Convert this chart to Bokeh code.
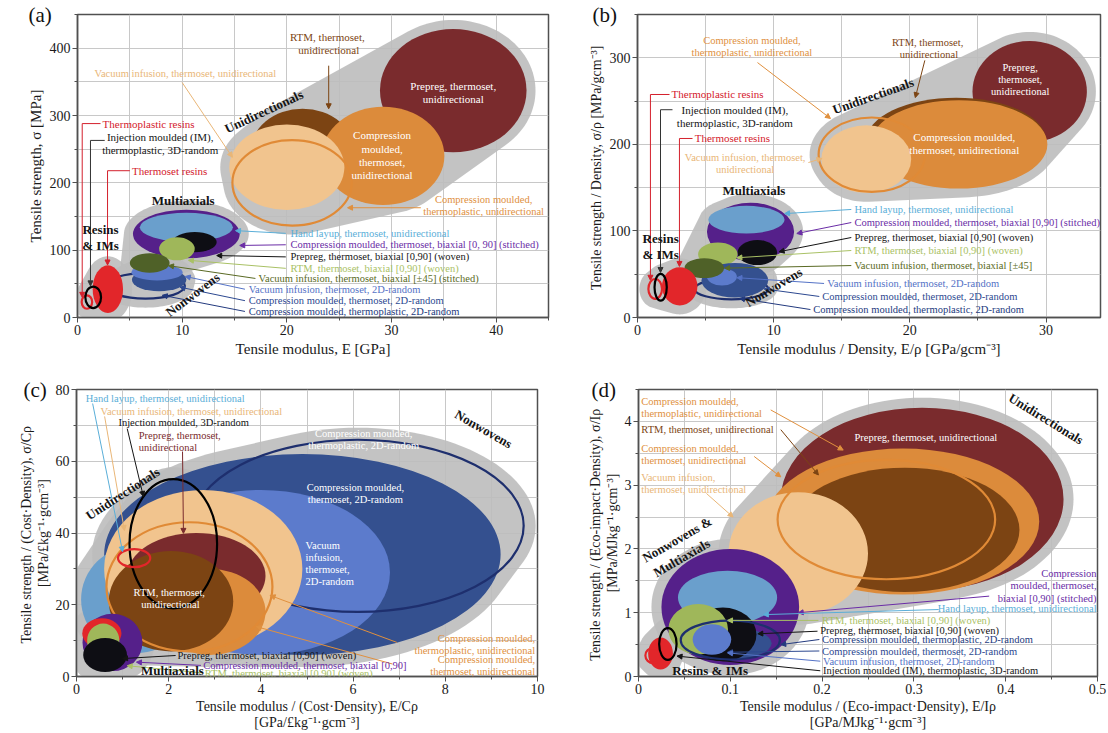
import numpy as np
from bokeh.plotting import figure
from bokeh.layouts import column, row
from bokeh.models import (Range1d, Label, Arrow, NormalHead, SingleIntervalTicker,
                          NumeralTickFormatter)
from bokeh.embed import file_html
from bokeh.resources import INLINE

FONT = "Liberation Serif"

MATERIALS = [
    "Thermoplastic resins",
    "Thermoset resins",
    "Injection moulded (IM), thermoplastic, 3D-random",
    "Compression moulded, thermoplastic, 2D-random",
    "Compression moulded, thermoset, 2D-random",
    "Vacuum infusion, thermoset, 2D-random",
    "Compression moulded, thermoset, biaxial [0,90] (stitched)",
    "Hand layup, thermoset, unidirectional",
    "Prepreg, thermoset, biaxial [0,90] (woven)",
    "RTM, thermoset, biaxial [0,90] (woven)",
    "Vacuum infusion, thermoset, biaxial [±45] (stitched)",
    "Prepreg, thermoset, unidirectional",
    "RTM, thermoset, unidirectional",
    "Compression moulded, thermoset, unidirectional",
    "Vacuum infusion, thermoset, unidirectional",
    "Compression moulded, thermoplastic, unidirectional",
]
FILLS = [None, "#e2262a", None, None, "#34508f", "#5c7bcc", "#55208a", "#6a9fcc",
         "#0e0e14", "#9fb75a", "#4f6128", "#7a2b2d", "#7c4413", "#dc8b3b", "#f1c48e", None]
EDGES = ["#e2262a", None, "#000000", "#1e2f6e", None, None, None, None,
         None, None, None, None, None, None, None, "#e08a36"]

# (a) Tensile modulus E [GPa] / tensile strength [MPa]
A_X = [0.9, 2.9, 1.5, 6.5, 7.8, 7.6, 10.4, 10.4, 11.2, 9.5, 6.9, 35.9, 21.5, 29.2, 20.0, 20.5]
A_Y = [23, 42, 30, 47, 56, 67, 124, 134, 112, 102, 81, 337, 245, 240, 223, 200]
A_W = [1.0, 2.9, 1.5, 7.5, 5.2, 4.9, 10.2, 8.9, 4.2, 3.4, 3.8, 14.0, 10.0, 11.7, 11.0, 11.4]
A_H = [20, 71, 32, 38, 34, 24, 72, 43, 30, 34, 29, 183, 130, 146, 127, 127]
# (b) specific values (per density)
B_X = [1.3, 3.1, 1.7, 6.9, 7.15, 6.2, 8.3, 8.0, 8.8, 5.9, 4.9, 28.8, 23.4, 23.6, 16.8, 17.2]
B_Y = [33, 36, 35, 33, 43, 47, 99, 113, 75, 73, 57, 261, 204, 200, 183, 188]
B_W = [1.0, 2.6, 0.9, 5.4, 4.9, 2.2, 6.4, 5.6, 2.9, 2.9, 2.9, 8.4, 13.2, 13.0, 6.6, 7.8]
B_H = [23, 44, 31, 24, 40, 20, 67, 32, 29, 27, 23, 117, 100, 102, 78, 86]
# (c) per cost-density
C_X = [1.25, 0.55, 2.1, 6.1, 4.9, 4.0, 0.78, 1.3, 0.62, 0.58, 0.7, 2.6, 2.05, 2.9, 2.75, 2.45]
C_Y = [33, 12, 37, 42, 34, 29, 9.5, 21.5, 6.0, 10, 8, 28, 21, 18, 30, 25]
C_W = [0.7, 0.85, 1.9, 7.2, 8.6, 5.6, 1.3, 2.4, 0.95, 0.7, 0.6, 3.0, 2.7, 2.4, 4.3, 3.6]
C_H = [5, 8.5, 36, 48, 56, 46, 16, 30, 9.5, 9.5, 6, 24, 28, 24, 44, 36]
# (d) per eco-impact-density
D_X = [0.016, 0.024, 0.032, 0.1, 0.1, 0.08, 0.1, 0.097, 0.092, 0.065, 0.08, 0.309, 0.29, 0.288, 0.174, 0.27]
D_Y = [0.33, 0.36, 0.51, 0.57, 0.52, 0.58, 1.09, 1.24, 0.66, 0.74, 0.9, 2.78, 2.3, 2.43, 1.93, 2.46]
D_W = [0.017, 0.027, 0.019, 0.108, 0.09, 0.042, 0.15, 0.108, 0.073, 0.065, 0.04, 0.308, 0.25, 0.297, 0.152, 0.237]
D_H = [0.24, 0.5, 0.5, 0.61, 0.5, 0.48, 1.82, 0.84, 0.84, 0.79, 0.3, 2.87, 1.95, 2.29, 1.92, 1.87]

GROUPS_ABD = ["R", "R", "R", "N", "N", "N", "M", "M", "M", "M", "M", "U", "U", "U", "U", "U"]
GROUPS_C = ["U", "M", "U", "N", "N", "N", "M", "U", "M", "M", "M", "U", "U", "U", "U", "U"]
GROUPS_D = ["R", "R", "R", "M", "M", "M", "M", "M", "M", "M", "M", "U", "U", "U", "U", "U"]

ORDER_AB = [11, 12, 13, 14, 15, 6, 7, 8, 9, 3, 4, 5, 10, 1, 0, 2]
ORDER_C = [4, 5, 3, 7, 14, 11, 13, 12, 15, 2, 0, 10, 6, 1, 9, 8]
ORDER_D = [11, 13, 12, 14, 15, 10, 6, 7, 4, 8, 9, 5, 3, 1, 0, 2]

T_RED = "#d4202c"; T_BLACK = "#141414"; T_TAN = "#e9b677"; T_ORANGE = "#e0903e"
T_BROWN = "#7c4413"; T_DARKRED = "#7a2b2d"; T_HAND = "#5aaed8"; T_PURPLE = "#6a2ca6"
T_GREEN = "#a9c165"; T_OLIVE = "#5a6a24"; T_VI2D = "#5472c6"; T_CMTS2D = "#2c4890"
T_CMTP2D = "#233a7e"; WHITE = "#ffffff"

# (x, y, text, color, size, align, style, angle)
TEXT_A = [
    (2.4, 288, "Thermoplastic resins", T_RED, 11, "left", "normal", 0),
    (7.9, 258, "Injection moulded (IM),\nthermoplastic, 3D-random", T_BLACK, 11, "center", "normal", 0),
    (5.2, 218, "Thermoset resins", T_RED, 11, "left", "normal", 0),
    (2.2, 119, "Resins\n& IMs", T_BLACK, 13, "center", "bold", 0),
    (10.1, 174, "Multiaxials", T_BLACK, 13, "center", "bold", 0),
    (11.0, 34, "Nonwovens", T_BLACK, 13, "center", "bold", 37),
    (17.8, 306, "Unidirectionals", T_BLACK, 13, "center", "bold", 25),
    (10.3, 362, "Vacuum infusion, thermoset, unidirectional", T_TAN, 10.5, "center", "normal", 0),
    (24.0, 407, "RTM,  thermoset,\nunidirectional", T_BROWN, 11, "center", "normal", 0),
    (35.9, 334, "Prepreg, thermoset,\nunidirectional", WHITE, 11, "center", "normal", 0),
    (29.1, 241, "Compression\nmoulded,\nthermoset,\nunidirectional", WHITE, 11, "center", "normal", 0),
    (38.8, 166, "Compression moulded,\nthermoplastic, unidirectional", T_ORANGE, 10.5, "center", "normal", 0),
    (20.35, 125, "Hand layup, thermoset, unidirectional", T_HAND, 10.5, "left", "normal", 0),
    (20.35, 108, "Compression moulded, thermoset, biaxial [0, 90] (stitched)", T_PURPLE, 10.5, "left", "normal", 0),
    (20.35, 90, "Prepreg, thermoset, biaxial [0,90] (woven)", T_BLACK, 10.5, "left", "normal", 0),
    (20.35, 73, "RTM, thermoset, biaxial [0,90] (woven)", T_GREEN, 10.5, "left", "normal", 0),
    (17.3, 58, "Vacuum infusion, thermoset, biaxial [±45] (stitched)", T_OLIVE, 10.5, "left", "normal", 0),
    (16.35, 42, "Vacuum infusion, thermoset, 2D-random", T_VI2D, 10.5, "left", "normal", 0),
    (16.35, 25, "Compression moulded, thermoset, 2D-random", T_CMTS2D, 10.5, "left", "normal", 0),
    (16.35, 9, "Compression moulded, thermoplastic, 2D-random", T_CMTP2D, 10.5, "left", "normal", 0),
]
LEAD_A = [
    ([2.2, 0.45, 0.45], [288, 288, 30], T_RED),
    ([2.6, 1.24, 1.24], [263, 263, 47], "#333333"),
    ([5.0, 2.87, 2.87], [218, 218, 78], T_RED),
    ([10.0, 14.8], [349, 238], T_TAN),
    ([24.0, 24.0], [374, 310], T_BROWN),
    ([32.8, 25.8], [163, 163], T_ORANGE),
    ([19.9, 15.1], [125, 129], T_HAND),
    ([19.9, 15.5], [108, 107], T_PURPLE),
    ([19.9, 13.3], [90, 92], T_BLACK),
    ([19.9, 10.6], [73, 85], T_GREEN),
    ([17.0, 8.7], [58, 77], T_OLIVE),
    ([16.0, 10.3], [42, 61], T_VI2D),
    ([16.0, 9.8], [25, 45], T_CMTS2D),
    ([16.0, 8.1], [9, 33], T_CMTP2D),
]

TEXT_B = [
    (2.5, 257.6, "Thermoplastic resins", T_RED, 11, "left", "normal", 0),
    (7.15, 232, "Injection moulded (IM),\nthermoplastic, 3D-random", T_BLACK, 11, "center", "normal", 0),
    (4.2, 206.8, "Thermoset resins", T_RED, 11, "left", "normal", 0),
    (7.9, 178, "Vacuum infusion, thermoset,\nunidirectional", T_TAN, 10.5, "center", "normal", 0),
    (8.4, 313, "Compression moulded,\nthermoplastic, unidirectional", T_ORANGE, 10.5, "center", "normal", 0),
    (8.55, 146.7, "Multiaxials", T_BLACK, 13, "center", "bold", 0),
    (1.7, 82, "Resins\n& IMs", T_BLACK, 13, "center", "bold", 0),
    (10.0, 35, "Nonwovens", T_BLACK, 13, "center", "bold", 31),
    (17.3, 256, "Unidirectionals", T_BLACK, 13, "center", "bold", 19.5),
    (21.4, 310.7, "RTM,  thermoset,\nunidirectional", T_BROWN, 10.5, "center", "normal", 0),
    (28.1, 275, "Prepreg,\nthermoset,\nunidirectional", WHITE, 10.5, "center", "normal", 0),
    (24.0, 201, "Compression moulded,\nthermoset, unidirectional", WHITE, 11, "center", "normal", 0),
    (15.93, 124.8, "Hand layup, thermoset, unidirectional", T_HAND, 10.5, "left", "normal", 0),
    (15.93, 109.7, "Compression moulded, thermoset, biaxial [0,90] (stitched)", T_PURPLE, 10.5, "left", "normal", 0),
    (15.93, 92.4, "Prepreg, thermoset, biaxial [0,90] (woven)", T_BLACK, 10.5, "left", "normal", 0),
    (15.93, 77.4, "RTM, thermoset, biaxial [0,90] (woven)", T_GREEN, 10.5, "left", "normal", 0),
    (15.93, 60, "Vacuum infusion,  thermoset, biaxial [±45]", T_OLIVE, 10.5, "left", "normal", 0),
    (13.94, 39.3, "Vacuum infusion, thermoset, 2D-random", T_VI2D, 10.5, "left", "normal", 0),
    (13.57, 24.3, "Compression moulded, thermoset, 2D-random", T_CMTS2D, 10.5, "left", "normal", 0),
    (12.9, 9.2, "Compression moulded, thermoplastic, 2D-random", T_CMTP2D, 10.5, "left", "normal", 0),
]
LEAD_B = [
    ([2.35, 0.95, 0.95], [257.6, 257.6, 43], T_RED),
    ([2.57, 1.69, 1.69], [240, 240, 52], "#333333"),
    ([4.04, 3.08, 3.08], [206.8, 206.8, 59], T_RED),
    ([12.55, 13.55], [179, 183.7], T_TAN),
    ([8.81, 14.17], [294.5, 229.9], T_ORANGE),
    ([21.1, 20.4], [297, 254], T_BROWN),
    ([15.7, 10.8], [124.8, 120], T_HAND),
    ([15.7, 11.7], [109.7, 97], T_PURPLE),
    ([15.7, 10.4], [92.4, 76], T_BLACK),
    ([15.7, 7.3], [77.4, 69], T_GREEN),
    ([15.7, 6.4], [60, 57], T_OLIVE),
    ([13.7, 7.3], [39.3, 46], T_VI2D),
    ([13.35, 9.3], [24.3, 33], T_CMTS2D),
    ([12.7, 7.5], [9.2, 22], T_CMTP2D),
]

TEXT_C = [
    (0.2, 77.5, "Hand layup, thermoset, unidirectional", T_HAND, 10.5, "left", "normal", 0),
    (0.52, 73.9, "Vacuum infusion, thermoset, unidirectional", T_TAN, 10.5, "left", "normal", 0),
    (0.91, 70.8, "Injection moulded, 3D-random", T_BLACK, 10.5, "left", "normal", 0),
    (1.35, 65.6, "Prepreg, thermoset,\nunidirectional", T_DARKRED, 10.5, "left", "normal", 0),
    (1.0, 51, "Unidirectionals", T_BLACK, 13, "center", "bold", 33),
    (8.83, 69, "Nonwovens", T_BLACK, 13, "center", "bold", -30),
    (6.23, 66, "Compression moulded,\nthermoplastic, 2D-random", WHITE, 10.5, "center", "normal", 0),
    (6.05, 51, "Compression moulded,\nthermoset, 2D-random", WHITE, 10.5, "center", "normal", 0),
    (4.97, 31.5, "Vacuum\ninfusion,\nthermoset,\n2D-random", WHITE, 10.5, "left", "normal", 0),
    (2.04, 21.7, "RTM,  thermoset,\nunidirectional", WHITE, 10.5, "center", "normal", 0),
    (9.95, 8.9, "Compression moulded,\nthermoplastic, unidirectional", T_ORANGE, 10.5, "right", "normal", 0),
    (9.95, 3.1, "Compression moulded,\nthermoset, unidirectional", T_ORANGE, 10.5, "right", "normal", 0),
    (2.19, 5.85, "Prepreg, thermoset, biaxial [0,90] (woven)", T_BLACK, 10.5, "left", "normal", 0),
    (2.75, 3.07, "Compression moulded, thermoset, biaxial [0,90]", T_PURPLE, 10.5, "left", "normal", 0),
    (2.78, 0.9, "RTM, thermoset, biaxial [0,90] (woven)", T_GREEN, 10.5, "left", "normal", 0),
    (2.08, 1.6, "Multiaxials", T_BLACK, 13, "center", "bold", 0),
]
LEAD_C = [
    ([0.35, 1.0], [76.1, 34.8], T_HAND),
    ([0.61, 1.04], [72.5, 40.7], T_TAN),
    ([1.1, 1.45], [69.1, 50.2], T_BLACK),
    ([2.3, 2.32], [62.7, 39.9], T_DARKRED),
    ([6.95, 4.2], [9.5, 22.6], T_ORANGE),
    ([6.85, 3.9], [3.5, 13.9], T_ORANGE),
    ([2.15, 1.0], [5.85, 5.0], T_BLACK),
    ([2.7, 1.3], [3.1, 4.0], T_PURPLE),
    ([2.73, 1.1], [1.0, 3.0], T_GREEN),
]

TEXT_D = [
    (0.003, 4.22, "Compression moulded,\nthermoplastic, unidirectional", T_ORANGE, 10.5, "left", "normal", 0),
    (0.003, 3.87, "RTM,  thermoset, unidirectional", T_BROWN, 10.5, "left", "normal", 0),
    (0.003, 3.48, "Compression moulded,\nthermoset, unidirectional", T_ORANGE, 10.5, "left", "normal", 0),
    (0.003, 3.03, "Vacuum infusion,\nthermoset, unidirectional", T_TAN, 10.5, "left", "normal", 0),
    (0.444, 4.04, "Unidirectionals", T_BLACK, 13, "center", "bold", -31.5),
    (0.313, 3.75, "Prepreg, thermoset, unidirectional", WHITE, 10.5, "center", "normal", 0),
    (0.042, 2.15, "Nonwovens &", T_BLACK, 13, "center", "bold", 30),
    (0.047, 1.86, "Multiaxials", T_BLACK, 13, "center", "bold", 30),
    (0.078, 0.09, "Resins & IMs", T_BLACK, 13, "center", "bold", 0),
    (0.499, 1.42, "Compression\nmoulded, thermoset,\nbiaxial [0,90] (stitched)", T_PURPLE, 10.5, "right", "normal", 0),
    (0.499, 1.07, "Hand layup, thermoset, unidirectional", T_HAND, 10.5, "right", "normal", 0),
    (0.2, 0.88, "RTM, thermoset, biaxial [0,90] (woven)", T_GREEN, 10.5, "left", "normal", 0),
    (0.198, 0.72, "Prepreg, thermoset, biaxial [0,90] (woven)", T_BLACK, 10.5, "left", "normal", 0),
    (0.2, 0.58, "Compression moulded, thermoplastic, 2D-random", T_CMTP2D, 10.5, "left", "normal", 0),
    (0.2, 0.39, "Compression moulded, thermoset, 2D-random", T_CMTS2D, 10.5, "left", "normal", 0),
    (0.201, 0.23, "Vacuum infusion, thermoset, 2D-random", T_VI2D, 10.5, "left", "normal", 0),
    (0.201, 0.09, "Injection moulded (IM), thermoplastic, 3D-random", T_BLACK, 10.5, "left", "normal", 0),
]
LEAD_D = [
    ([0.144, 0.223], [4.18, 3.55], T_ORANGE),
    ([0.155, 0.196], [3.87, 3.16], T_BROWN),
    ([0.126, 0.155], [3.45, 3.13], T_ORANGE),
    ([0.074, 0.103], [2.87, 2.5], T_TAN),
    ([0.382, 0.174], [1.26, 1.0], T_PURPLE),
    ([0.327, 0.136], [1.05, 0.97], T_HAND),
    ([0.196, 0.097], [0.88, 0.88], T_GREEN),
    ([0.195, 0.13], [0.71, 0.67], T_BLACK),
    ([0.197, 0.155], [0.58, 0.5], T_CMTP2D),
    ([0.197, 0.097], [0.4, 0.38], T_CMTS2D),
    ([0.198, 0.097], [0.24, 0.37], T_VI2D),
    ([0.198, 0.042], [0.09, 0.32], T_BLACK),
]


def convex_hull(pts):
    pts = sorted(set(pts))

    def cross(o, a, b):
        return (a[0] - o[0]) * (b[1] - o[1]) - (a[1] - o[1]) * (b[0] - o[0])
    lower, upper = [], []
    for q in pts:
        while len(lower) >= 2 and cross(lower[-2], lower[-1], q) <= 0:
            lower.pop()
        lower.append(q)
    for q in reversed(pts):
        while len(upper) >= 2 and cross(upper[-2], upper[-1], q) <= 0:
            upper.pop()
        upper.append(q)
    return lower[:-1] + upper[:-1]


def make_panel(xr, yr, width, height, borders, xmajor, ymajor, xgrid, ygrid,
               xlabel, ylabel, tick_size, xtitle_size, ytitle_size, label_standoff,
               line_h, tag, tag_offset, xfmt=None):
    p = figure(width=width, height=height, x_range=Range1d(*xr), y_range=Range1d(*yr),
               output_backend="svg", toolbar_location=None,
               min_border_left=borders[0], min_border_right=borders[1],
               min_border_top=borders[2], min_border_bottom=borders[3])
    p.background_fill_color = "white"
    p.border_fill_color = "white"
    p.outline_line_color = "#505050"
    p.outline_line_width = 1.5
    p.xaxis.ticker = SingleIntervalTicker(interval=xmajor, num_minor_ticks=2)
    p.yaxis.ticker = SingleIntervalTicker(interval=ymajor, num_minor_ticks=2)
    p.xgrid.ticker = SingleIntervalTicker(interval=xgrid)
    p.ygrid.ticker = SingleIntervalTicker(interval=ygrid)
    p.xgrid.grid_line_color = "#c8c8c8"
    p.ygrid.grid_line_color = "#c8c8c8"
    if xfmt:
        p.xaxis.formatter = NumeralTickFormatter(format=xfmt)
    for ax in (p.xaxis, p.yaxis):
        ax.axis_line_color = "#505050"
        ax.axis_line_width = 1.5
        ax.major_tick_line_color = "#505050"
        ax.minor_tick_line_color = "#505050"
        ax.major_tick_out = 5
        ax.major_tick_in = 0
        ax.minor_tick_out = 3
        ax.minor_tick_in = 0
        ax.major_label_text_font = FONT
        ax.major_label_text_font_size = f"{tick_size}px"
        ax.major_label_text_color = "#1a1a1a"
        ax.major_label_standoff = 2
        ax.axis_label_text_font = FONT
        ax.axis_label_text_font_style = "normal"
        ax.axis_label_text_color = "#1a1a1a"
        ax.axis_label_standoff = label_standoff
        ax.axis_label_text_line_height = line_h
    p.xaxis.axis_label_text_font_size = f"{xtitle_size}px"
    p.yaxis.axis_label_text_font_size = f"{ytitle_size}px"
    p.xaxis.axis_label = xlabel
    p.yaxis.axis_label = ylabel
    # panel tag "(a)".."(d)" placed beside the top-left corner of the frame
    p.title.text = tag
    p.title.align = "left"
    p.title.offset = tag_offset
    p.title.standoff = -26
    p.title.vertical_align = "middle"
    p.title.text_font = FONT
    p.title.text_font_size = "21px"
    p.title.text_font_style = "normal"
    p.title.text_color = "#111111"
    return p


def draw(p, frame_w, frame_h, xs, ys, ws, hs, groups, order, pad_px, texts, leads):
    x0, x1 = p.x_range.start, p.x_range.end
    y0, y1 = p.y_range.start, p.y_range.end
    padx = pad_px * (x1 - x0) / frame_w
    pady = pad_px * (y1 - y0) / frame_h
    t = np.linspace(0, 2 * np.pi, 120, endpoint=False)
    for g in ["U", "N", "M", "R"]:
        pts = []
        for i in range(len(xs)):
            if groups[i] != g:
                continue
            ex = xs[i] + (ws[i] / 2 + padx) * np.cos(t)
            ey = ys[i] + (hs[i] / 2 + pady) * np.sin(t)
            pts += list(zip(ex.tolist(), ey.tolist()))
        if len(pts) < 3:
            continue
        hull = convex_hull(pts)
        p.patch([q[0] for q in hull], [q[1] for q in hull], fill_color="#bdbdbd",
                fill_alpha=0.9, line_color=None)
    for i in order:
        if FILLS[i] is not None:
            p.ellipse(x=[xs[i]], y=[ys[i]], width=[ws[i]], height=[hs[i]],
                      fill_color=FILLS[i], line_color=None)
        else:
            p.ellipse(x=[xs[i]], y=[ys[i]], width=[ws[i]], height=[hs[i]],
                      fill_alpha=0, line_color=EDGES[i], line_width=2.2)
    for lx, ly, c in leads:
        if len(lx) > 2:
            p.line(lx[:-1], ly[:-1], line_color=c, line_width=1)
        p.add_layout(Arrow(end=NormalHead(size=5, fill_color=c, line_color=c),
                           x_start=lx[-2], y_start=ly[-2], x_end=lx[-1], y_end=ly[-1],
                           line_color=c, line_width=1))
    for (x, y, txt, c, s, al, st, ang) in texts:
        p.add_layout(Label(x=x, y=y, text=txt, text_color=c, text_font=FONT,
                           text_font_size=f"{s}px", text_align=al, text_baseline="middle",
                           text_font_style=st, angle=np.deg2rad(ang), text_line_height=1.1))


# Row 1: figures 0..366 px tall; frames at y 14..317
pa = make_panel((0, 45), (0, 450), 560, 366, (77, 12, 14, 49), 10, 100, 5, 50,
                "Tensile modulus, E [GPa]", "Tensile strength, σ [MPa]", 14, 15, 15, 3, 1.2,
                "(a)", -49)
draw(pa, 471, 303, A_X, A_Y, A_W, A_H, GROUPS_ABD, ORDER_AB, 9, TEXT_A, LEAD_A)

pb = make_panel((0, 34), (0, 350), 548, 366, (77, 8, 14, 49), 10, 100, 5, 50,
                "Tensile modulus / Density, E/ρ [GPa/gcm⁻³]",
                "Tensile strength / Density,  σ/ρ [MPa/gcm⁻³]", 14, 15, 14, 3, 1.2,
                "(b)", -45)
draw(pb, 463, 303, B_X, B_Y, B_W, B_H, GROUPS_ABD, ORDER_AB, 9, TEXT_B, LEAD_B)

# Row 2: figures 366..733 px; frames at y 389..676
pc = make_panel((0, 10), (0, 80), 560, 367, (76, 23, 23, 57), 2, 20, 1, 10,
                "Tensile modulus / (Cost·Density), E/Cρ\n[GPa/£kg⁻¹·gcm⁻³]",
                "Tensile strength / (Cost·Density),  σ/Cρ\n[MPa/£kg⁻¹·gcm⁻³]", 14, 14, 14, 2, 1.12,
                "(c)", -53)
draw(pc, 461, 287, C_X, C_Y, C_W, C_H, GROUPS_C, ORDER_C, 12, TEXT_C, LEAD_C)

pd = make_panel((0, 0.5), (0, 4.5), 548, 367, (78, 11, 23, 57), 0.1, 1, 0.05, 0.5,
                "Tensile modulus / (Eco-impact·Density), E/Iρ\n[GPa/MJkg⁻¹·gcm⁻³]",
                "Tensile strength / (Eco-impact·Density),  σ/Iρ\n[MPa/MJkg⁻¹·gcm⁻³]", 14, 14, 14, 2, 1.12,
                "(d)", -47, xfmt="0.[0]")
draw(pd, 459, 287, D_X, D_Y, D_W, D_H, GROUPS_D, ORDER_D, 10, TEXT_D, LEAD_D)

layout = column(row(pa, pb), row(pc, pd))
open("out.html", "w").write(file_html(layout, INLINE))
